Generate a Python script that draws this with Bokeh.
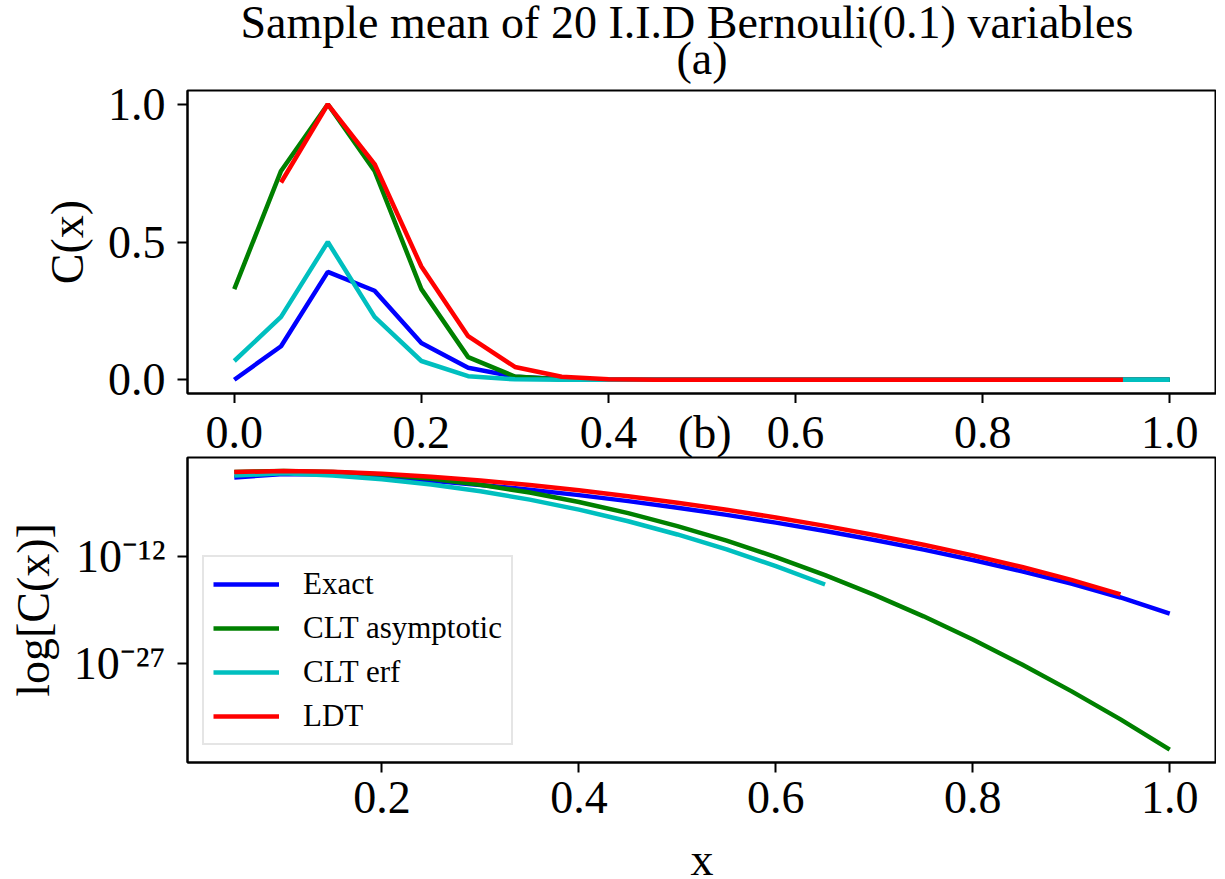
from bokeh.plotting import figure
from bokeh.models import (Range1d, FixedTicker, NumeralTickFormatter, CustomJSTickFormatter,
                          Legend, LegendItem, LinearAxis, Title)
from bokeh.layouts import column
from bokeh.embed import file_html
from bokeh.resources import INLINE

# ---------------- data ----------------
x_vals = [0.00, 0.05, 0.10, 0.15, 0.20, 0.25, 0.30, 0.35, 0.40, 0.45, 0.50,
          0.55, 0.60, 0.65, 0.70, 0.75, 0.80, 0.85, 0.90, 0.95, 1.00]

exact = [0.0, 0.1216, 0.3917, 0.3231, 0.1330, 0.04317, 0.01125, 2.386e-3, 4.156e-4,
         5.99e-5, 7.15e-6, 7.09e-7, 5.82e-8, 3.92e-9, 2.16e-10, 9.48e-12, 3.26e-13,
         8.47e-15, 1.56e-16, 1.81e-18, 1.0e-20]

clt_asymptotic = [0.329, 0.758, 1.0, 0.758, 0.329, 0.0821, 0.0118, 9.6e-4, 4.5e-5,
                  1.23e-6, 1.9e-8, 1.7e-10, 8.6e-13, 2.5e-15, 4.2e-18, 4.1e-21, 2.3e-24,
                  7.2e-28, 1.3e-31, 1.4e-35, 8.2e-40]

clt_erf = [0.0680, 0.228, 0.5, 0.228, 0.0680, 0.0127, 1.44e-3, 9.7e-5, 3.9e-6, 9.0e-8,
           1.26e-9, 9.9e-12, 4.6e-14, 1.2e-16, 0.0, 0.0, 0.0, 0.0, 0.0, 0.0, 0.0]

ldt = [None, 0.716, 1.0, 0.783, 0.411, 0.158, 0.0463, 0.0107, 1.98e-3, 2.98e-4,
       3.65e-5, 3.67e-6, 3.02e-7, 2.0e-8, 1.08e-9, 4.5e-11, 1.45e-12, 3.4e-14,
       5.4e-16, 4.8e-18, None]

series_names = ["Exact", "CLT asymptotic", "CLT erf", "LDT"]
series_colors = ["#0000ff", "#008000", "#00bfbf", "#ff0000"]
series_values = [exact, clt_asymptotic, clt_erf, ldt]

top_x_ticks = [0.0, 0.2, 0.4, 0.6, 0.8, 1.0]
top_y_ticks = [0.0, 0.5, 1.0]
bottom_x_ticks = [0.2, 0.4, 0.6, 0.8, 1.0]
bottom_y_ticks = [1e-27, 1e-12]

title_text = "Sample mean of 20 I.I.D Bernouli(0.1) variables"
panel_a = "(a)"
panel_b = "(b)"
panel_b_x = 0.503

FONT = "Liberation Serif"
FS = "46px"
LW = 4.5


def style(p):
    p.outline_line_color = "black"
    p.outline_line_width = 2
    p.xgrid.visible = False
    p.ygrid.visible = False
    for ax in (p.xaxis[0], p.yaxis[0]):
        ax.axis_line_width = 2
        ax.major_tick_line_width = 2
        ax.major_tick_in = 0
        ax.major_tick_out = 10
        ax.minor_tick_line_color = None
        ax.major_label_text_font = FONT
        ax.major_label_text_font_size = FS
        ax.major_label_text_color = "black"
        ax.axis_label_text_font = FONT
        ax.axis_label_text_font_size = FS
        ax.axis_label_text_font_style = "normal"
        ax.axis_label_text_color = "black"


def keep(xs, ys, positive=False):
    px, py = [], []
    for a, b in zip(xs, ys):
        if b is None:
            continue
        if positive and (b <= 0 or a < 0.05):
            continue
        px.append(a)
        py.append(b)
    return px, py


# ---------------- top panel (a) ----------------
p1 = figure(frame_width=1029, frame_height=303, output_backend="svg", toolbar_location=None,
            x_range=Range1d(-0.05, 1.05), y_range=Range1d(-0.05, 1.05),
            min_border_left=187, min_border_right=0, min_border_top=90, min_border_bottom=0)
style(p1)
p1.xaxis.ticker = FixedTicker(ticks=top_x_ticks)
p1.yaxis.ticker = FixedTicker(ticks=top_y_ticks)
# tick labels of panel (a)'s x axis are drawn just above panel (b), as in the original
p1.xaxis.formatter = CustomJSTickFormatter(code="return '';")
p1.xaxis.major_label_standoff = 0
p1.yaxis.formatter = NumeralTickFormatter(format="0.0")
p1.yaxis.major_label_standoff = 12
p1.yaxis.axis_label = "C(x)"
p1.yaxis.axis_label_standoff = 12

for name, col, vals in zip(series_names, series_colors, series_values):
    xs, ys = keep(x_vals, vals)
    p1.line(xs, ys, line_color=col, line_width=LW)

p1.add_layout(Title(text=panel_a, align="center", text_font=FONT, text_font_size=FS,
                    text_font_style="normal", text_color="black", standoff=14), "above")
p1.add_layout(Title(text=title_text, align="left", offset=53, text_font=FONT,
                    text_font_size=FS, text_font_style="normal", text_color="black",
                    standoff=-48), "above")

# ---------------- bottom panel (b) ----------------
p2 = figure(frame_width=1029, frame_height=305, output_backend="svg", toolbar_location=None,
            x_range=Range1d(0.0025, 1.0475), y_range=Range1d(10 ** -40.9, 10 ** 1.9),
            y_axis_type="log",
            min_border_left=187, min_border_right=0, min_border_top=40, min_border_bottom=0)
p2.extra_x_ranges = {"top": Range1d(-0.05, 1.05)}
style(p2)
p2.xaxis.ticker = FixedTicker(ticks=bottom_x_ticks)
p2.yaxis.ticker = FixedTicker(ticks=bottom_y_ticks)
p2.xaxis.formatter = NumeralTickFormatter(format="0.0")
p2.yaxis.formatter = CustomJSTickFormatter(code="""
const e = Math.round(Math.log10(tick));
const sup = {"-": "\\u207B", "0": "\\u2070", "1": "\\u00B9", "2": "\\u00B2", "3": "\\u00B3",
             "4": "\\u2074", "5": "\\u2075", "6": "\\u2076", "7": "\\u2077", "8": "\\u2078",
             "9": "\\u2079"};
return "10" + String(e).split("").map(c => sup[c]).join("");
""")
p2.xaxis.major_label_standoff = 9
p2.yaxis.major_label_standoff = 12
p2.yaxis.axis_label = "log[C(x)]"
p2.yaxis.axis_label_standoff = 12
p2.xaxis.axis_label = "x"
p2.xaxis.axis_label_standoff = 18

# x tick labels of panel (a) together with the "(b)" heading
top_labels_axis = LinearAxis(
    x_range_name="top",
    ticker=FixedTicker(ticks=top_x_ticks + [panel_b_x]),
    formatter=CustomJSTickFormatter(args=dict(bx=panel_b_x, bt=panel_b), code="""
if (Math.abs(tick - bx) < 1e-9) { return bt; }
return tick.toFixed(1);
"""),
    axis_line_color=None, major_tick_line_color=None, minor_tick_line_color=None,
    major_tick_in=0, major_tick_out=0, major_label_standoff=0,
    major_label_text_font=FONT, major_label_text_font_size=FS,
    major_label_text_color="black")
p2.add_layout(top_labels_axis, "above")

items = []
for name, col, vals in zip(series_names, series_colors, series_values):
    xs, ys = keep(x_vals, vals, positive=True)
    r = p2.line(xs, ys, line_color=col, line_width=LW)
    items.append(LegendItem(label=name, renderers=[r]))

legend = Legend(items=items, location=(15, 17), margin=0, padding=9,
                label_text_font=FONT, label_text_font_size="31px", label_text_color="black",
                glyph_width=66, glyph_height=36, label_height=36, spacing=8,
                label_standoff=24, border_line_color="#cccccc", border_line_width=2,
                background_fill_color="white", background_fill_alpha=0.8)
p2.add_layout(legend)

layout = column(p1, p2, spacing=0)

with open("out.html", "w") as f:
    f.write(file_html(layout, INLINE))
